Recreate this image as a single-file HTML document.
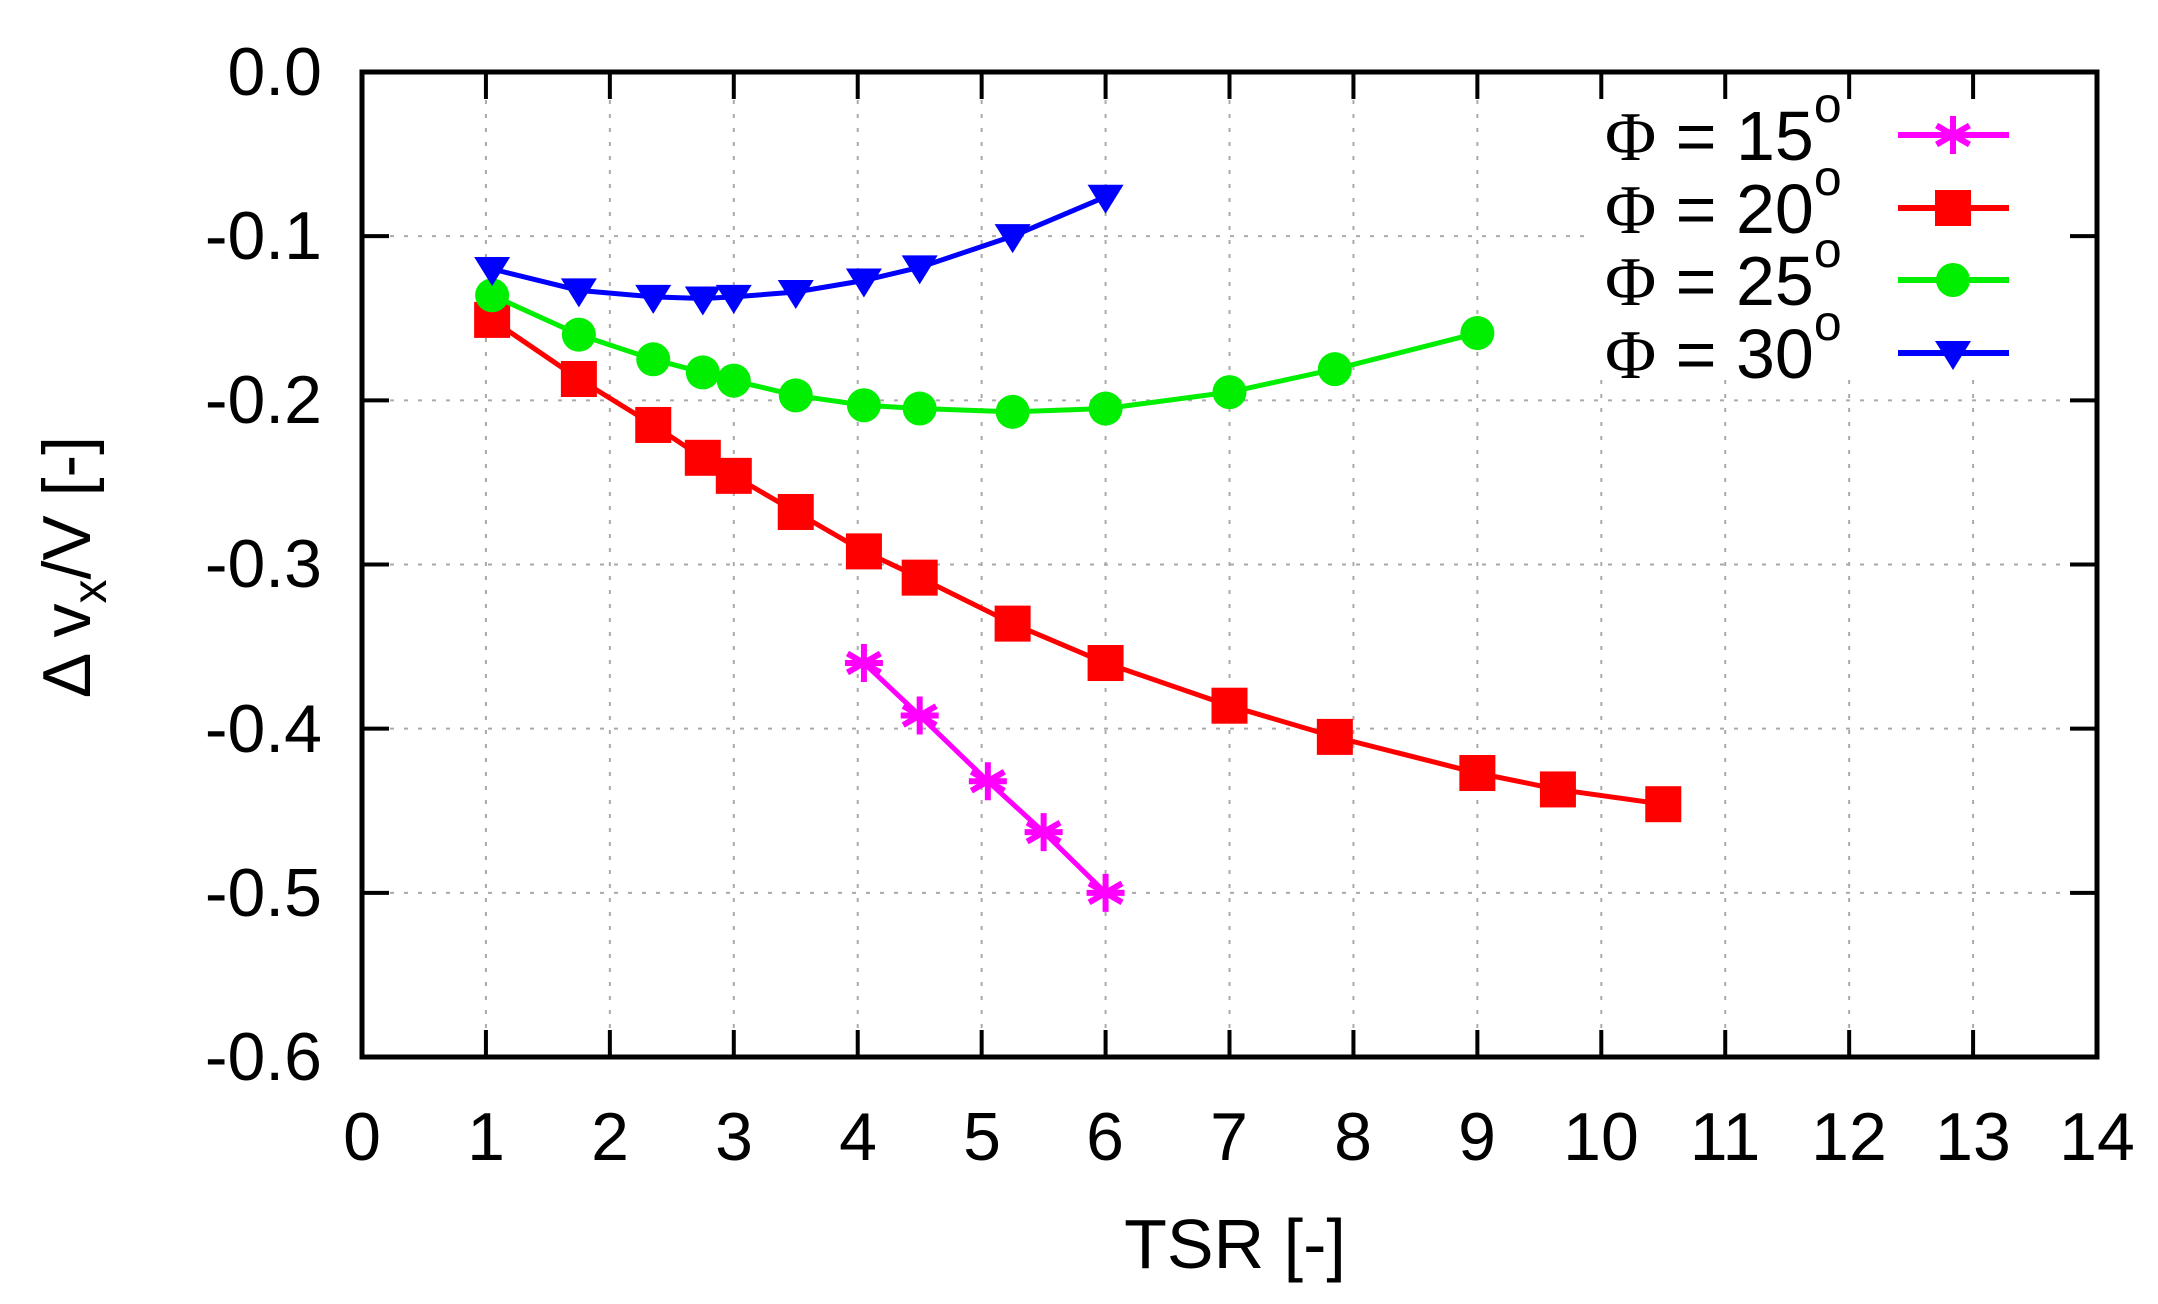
<!DOCTYPE html>
<html><head><meta charset="utf-8"><style>
html,body{margin:0;padding:0;background:#fff;}
svg{display:block;}
text{font-family:"Liberation Sans",sans-serif;fill:#000;}
</style></head><body>
<svg id="s" width="2158" height="1304" viewBox="0 0 2158 1304" xmlns="http://www.w3.org/2000/svg">
<g id="grid" stroke="#aaa" stroke-width="2" stroke-dasharray="4,10"></g>
<rect x="1592" y="100" width="500" height="280" fill="#fff"/>
<g id="ticks" stroke="#000" stroke-width="4"></g>
<rect x="362" y="72" width="1735" height="985" fill="none" stroke="#000" stroke-width="5"/>
<g font-size="68" text-anchor="end">
<text x="322" y="95">0.0</text>
<text x="322" y="259">-0.1</text>
<text x="322" y="423">-0.2</text>
<text x="322" y="587">-0.3</text>
<text x="322" y="752">-0.4</text>
<text x="322" y="916">-0.5</text>
<text x="322" y="1080">-0.6</text>
</g>
<g font-size="68" text-anchor="middle">
<text x="362" y="1160">0</text><text x="486" y="1160">1</text><text x="610" y="1160">2</text>
<text x="734" y="1160">3</text><text x="858" y="1160">4</text><text x="982" y="1160">5</text>
<text x="1105" y="1160">6</text><text x="1229" y="1160">7</text><text x="1353" y="1160">8</text>
<text x="1477" y="1160">9</text><text x="1601" y="1160">10</text><text x="1725" y="1160">11</text>
<text x="1849" y="1160">12</text><text x="1973" y="1160">13</text><text x="2097" y="1160">14</text>
</g>
<text x="1235" y="1268" font-size="70" text-anchor="middle">TSR [-]</text>
<text transform="translate(90,567) rotate(-90)" font-size="68" text-anchor="middle">Δ v<tspan font-size="48" dy="16">x</tspan><tspan dy="-16">/V [-]</tspan></text>
<g font-size="70">
<text x="1605" y="160"><tspan font-family="Liberation Serif">Φ</tspan> = 15<tspan font-size="50" dy="-38">o</tspan></text>
<text x="1605" y="233"><tspan font-family="Liberation Serif">Φ</tspan> = 20<tspan font-size="50" dy="-38">o</tspan></text>
<text x="1605" y="305"><tspan font-family="Liberation Serif">Φ</tspan> = 25<tspan font-size="50" dy="-38">o</tspan></text>
<text x="1605" y="378"><tspan font-family="Liberation Serif">Φ</tspan> = 30<tspan font-size="50" dy="-38">o</tspan></text>
</g>
<g id="series"></g>
</svg>
<script>
const NS="http://www.w3.org/2000/svg";
const X=t=>362+123.93*t, Y=v=>72-v*1641.7;
function el(p,tag,a){const e=document.createElementNS(NS,tag);for(const k in a)e.setAttribute(k,a[k]);p.appendChild(e);return e;}
const g=document.getElementById('grid'),tk=document.getElementById('ticks'),S=document.getElementById('series');
for(let i=1;i<14;i++){const x=X(i);el(g,'line',{x1:x,y1:72,x2:x,y2:1057});el(tk,'line',{x1:x,y1:72,x2:x,y2:99});el(tk,'line',{x1:x,y1:1057,x2:x,y2:1030});}
for(let i=1;i<6;i++){const y=Y(-i/10);el(g,'line',{x1:362,y1:y,x2:2097,y2:y});el(tk,'line',{x1:362,y1:y,x2:389,y2:y});el(tk,'line',{x1:2097,y1:y,x2:2070,y2:y});}
const series=[
 {c:'#ff00ff',m:'star',d:[[4.05,-0.36],[4.5,-0.392],[5.05,-0.432],[5.5,-0.463],[6,-0.5]],ly:135},
 {c:'#ff0000',m:'sq',d:[[1.05,-0.151],[1.75,-0.187],[2.35,-0.215],[2.75,-0.235],[3,-0.246],[3.5,-0.268],[4.05,-0.292],[4.5,-0.308],[5.25,-0.336],[6,-0.36],[7,-0.386],[7.85,-0.405],[9,-0.427],[9.65,-0.437],[10.5,-0.446]],ly:208},
 {c:'#00ee00',m:'circ',d:[[1.05,-0.136],[1.75,-0.16],[2.35,-0.175],[2.75,-0.183],[3,-0.188],[3.5,-0.197],[4.05,-0.203],[4.5,-0.205],[5.25,-0.207],[6,-0.205],[7,-0.195],[7.85,-0.181],[9,-0.159]],ly:280},
 {c:'#0000ff',m:'tri',d:[[1.05,-0.12],[1.75,-0.133],[2.35,-0.137],[2.75,-0.138],[3,-0.137],[3.5,-0.134],[4.05,-0.127],[4.5,-0.119],[5.25,-0.1],[6,-0.076]],ly:353}
];
function mk(p,m,c,x,y){
 if(m=='sq')el(p,'rect',{x:x-18,y:y-18,width:36,height:36,fill:c});
 else if(m=='circ')el(p,'circle',{cx:x,cy:y,r:17,fill:c});
 else if(m=='tri')el(p,'polygon',{points:`${x-18},${y-12} ${x+18},${y-12} ${x},${y+17}`,fill:c});
 else{const r=19;for(const a of [0,60,120]){const rad=a*Math.PI/180;el(p,'line',{x1:x-r*Math.sin(rad),y1:y-r*Math.cos(rad),x2:x+r*Math.sin(rad),y2:y+r*Math.cos(rad),stroke:c,'stroke-width':6});}
  el(p,'line',{x1:x-r,y1:y,x2:x+r,y2:y,stroke:c,'stroke-width':6});}
}
for(const s of series){
 el(S,'polyline',{points:s.d.map(p=>X(p[0])+','+Y(p[1])).join(' '),fill:'none',stroke:s.c,'stroke-width':5});
 for(const p of s.d)mk(S,s.m,s.c,X(p[0]),Y(p[1]));
 el(S,'line',{x1:1898,y1:s.ly,x2:2009,y2:s.ly,stroke:s.c,'stroke-width':6});
 mk(S,s.m,s.c,1953,s.ly);
}
</script>
</body></html>
